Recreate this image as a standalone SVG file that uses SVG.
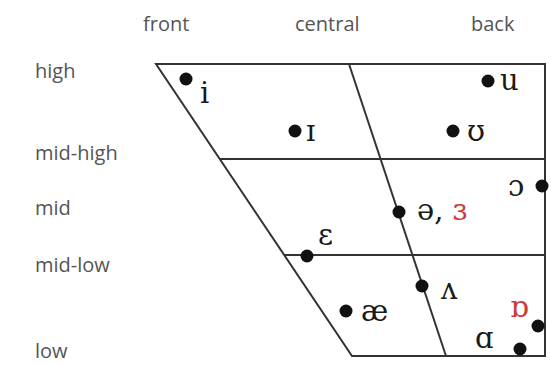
<svg xmlns="http://www.w3.org/2000/svg" width="551" height="365" viewBox="0 0 551 365">
<style>
.lbl{font-family:"Open Sans","Liberation Sans",sans-serif;font-size:20px;fill:#555}
.ipa{font-family:"DejaVu Serif","Liberation Serif",serif;font-size:29px;fill:#1a1a1a}
.red{fill:#cc3b3b}
.ln{stroke:#333;stroke-width:2;fill:none}
.dot{fill:#111}
</style>
<rect width="551" height="365" fill="#fff"/>
<g id="axis-labels">
<text class="lbl" x="143" y="31">front</text>
<text class="lbl" x="295" y="31">central</text>
<text class="lbl" x="471" y="31">back</text>
<text class="lbl" x="35" y="78">high</text>
<text class="lbl" x="35" y="160">mid-high</text>
<text class="lbl" x="35" y="215">mid</text>
<text class="lbl" x="35" y="272">mid-low</text>
<text class="lbl" x="35" y="358">low</text>
</g>
<g id="connectors">
<polygon class="ln" points="156,64 545,64 545,356 352,356"/>
<line class="ln" x1="349" y1="64" x2="446" y2="356"/>
<line class="ln" x1="220" y1="159" x2="545" y2="159"/>
<line class="ln" x1="284" y1="255" x2="545" y2="255"/>
</g>
<g id="v-i"><circle class="dot" cx="186" cy="79" r="6.5"/><text class="ipa" x="200" y="103">i</text></g>
<g id="v-u"><circle class="dot" cx="488" cy="81" r="6.5"/><text class="ipa" x="500" y="90">u</text></g>
<g id="v-I"><circle class="dot" cx="295" cy="131" r="6.5"/><text class="ipa" x="306" y="141">ɪ</text></g>
<g id="v-U"><circle class="dot" cx="453" cy="131" r="6.5"/><text class="ipa" x="467" y="141">ʊ</text></g>
<g id="v-open-o"><circle class="dot" cx="542" cy="186" r="6.5"/><text class="ipa" x="508" y="196">ɔ</text></g>
<g id="v-schwa"><circle class="dot" cx="399" cy="212" r="6.5"/><text class="ipa" x="417" y="220">ə, <tspan class="red">ɜ</tspan></text></g>
<g id="v-epsilon"><circle class="dot" cx="307" cy="256" r="6.5"/><text class="ipa" x="318" y="245">ɛ</text></g>
<g id="v-wedge"><circle class="dot" cx="422" cy="286" r="6.5"/><text class="ipa" x="441" y="299">ʌ</text></g>
<g id="v-ae"><circle class="dot" cx="346" cy="311" r="6.5"/><text class="ipa" x="361" y="321">æ</text></g>
<g id="v-turned-a"><circle class="dot" cx="538" cy="326" r="6.5"/><text class="ipa red" x="510" y="317">ɒ</text></g>
<g id="v-a"><circle class="dot" cx="520" cy="349" r="6.5"/><text class="ipa" x="475" y="348">ɑ</text></g>
</svg>
